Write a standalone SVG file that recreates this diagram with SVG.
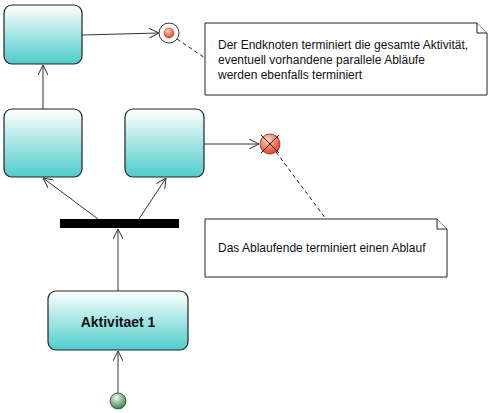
<svg xmlns="http://www.w3.org/2000/svg" width="493" height="413" viewBox="0 0 493 413">
<style>
.act{fill:url(#tg);stroke:#222;stroke-width:1.2}
.conn{stroke:#333;stroke-width:1;fill:none}
.dash{stroke:#222;stroke-width:1;fill:none;stroke-dasharray:4,3}
.note{fill:#fff;stroke:#222;stroke-width:1}
.nt{font-family:"Liberation Sans",Arial,sans-serif;font-size:12px;fill:#111}
.lbl{font-family:"Liberation Sans",Arial,sans-serif;font-size:14px;font-weight:bold;fill:#111}
</style>
<defs>
<linearGradient id="tg" x1="0" y1="0" x2="0" y2="1">
<stop offset="0" stop-color="#ffffff"/>
<stop offset="1" stop-color="#4ecccb"/>
</linearGradient>
<radialGradient id="rg" cx="0.4" cy="0.3" r="0.7">
<stop offset="0" stop-color="#ffd8cc"/>
<stop offset="1" stop-color="#e8401c"/>
</radialGradient>
<radialGradient id="gg" cx="0.4" cy="0.3" r="0.75">
<stop offset="0" stop-color="#eef7ee"/>
<stop offset="1" stop-color="#2f7a3a"/>
</radialGradient>
<marker id="arr" viewBox="0 0 10 10" refX="10" refY="5" markerWidth="10" markerHeight="10" markerUnits="userSpaceOnUse" orient="auto">
<path d="M0,0 L10,5 L0,10" fill="none" stroke="#333" stroke-width="1"/>
</marker>
</defs>
<g id="connectors">
<line class="conn" x1="82" y1="35" x2="159" y2="33" marker-end="url(#arr)"/>
<line class="conn" x1="43" y1="109" x2="43" y2="65" marker-end="url(#arr)"/>
<line class="conn" x1="98" y1="219" x2="43" y2="178" marker-end="url(#arr)"/>
<line class="conn" x1="139" y1="219" x2="166" y2="178" marker-end="url(#arr)"/>
<line class="conn" x1="204" y1="144" x2="259" y2="144" marker-end="url(#arr)"/>
<line class="conn" x1="118" y1="291" x2="118" y2="229" marker-end="url(#arr)"/>
<line class="conn" x1="118" y1="393" x2="118" y2="351" marker-end="url(#arr)"/>
<line class="dash" x1="177" y1="39" x2="205" y2="58"/>
<line class="dash" x1="276" y1="152" x2="326" y2="219"/>
</g>
<g id="act-top"><rect class="act" x="4" y="5" width="78" height="59" rx="8"/></g>
<g id="act-left"><rect class="act" x="4" y="109" width="78" height="68" rx="8"/></g>
<g id="act-right"><rect class="act" x="125" y="109" width="79" height="68" rx="8"/></g>
<g id="act1">
<rect class="act" x="48" y="291" width="140" height="59" rx="8"/>
<text class="lbl" x="118" y="327" text-anchor="middle">Aktivitaet 1</text>
</g>
<g id="fork"><rect x="60" y="219" width="119" height="9" fill="#000"/></g>
<g id="final">
<circle cx="169" cy="33" r="10" fill="#fff" stroke="#333" stroke-width="1"/>
<circle cx="169" cy="33" r="5" fill="url(#rg)" stroke="#a02010" stroke-width="0.5"/>
</g>
<g id="flowfinal">
<circle cx="270" cy="144" r="10" fill="url(#rg)" stroke="#8a2a1a" stroke-width="0.8"/>
<line x1="261" y1="135" x2="279" y2="153" stroke="#222" stroke-width="1"/>
<line x1="279" y1="135" x2="261" y2="153" stroke="#222" stroke-width="1"/>
</g>
<g id="initial">
<circle cx="118" cy="401" r="8" fill="url(#gg)" stroke="#1e4d24" stroke-width="0.8"/>
</g>
<g id="note1">
<path class="note" d="M205,23 H477 L487,33 V95 H205 Z"/>
<path class="note" d="M477,23 V33 H487" fill="none"/>
<text class="nt" x="218" y="49">Der Endknoten terminiert die gesamte Aktivität,</text>
<text class="nt" x="218" y="64">eventuell vorhandene parallele Abläufe</text>
<text class="nt" x="218" y="79">werden ebenfalls terminiert</text>
</g>
<g id="note2">
<path class="note" d="M205,219 H437 L447,229 V277 H205 Z"/>
<path class="note" d="M437,219 V229 H447" fill="none"/>
<text class="nt" x="218" y="252">Das Ablaufende terminiert einen Ablauf</text>
</g>
</svg>
